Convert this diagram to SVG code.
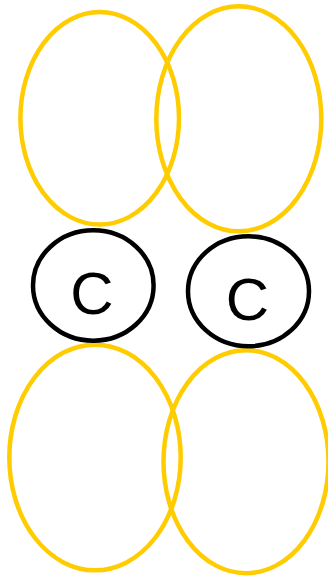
<svg xmlns="http://www.w3.org/2000/svg" width="328" height="576" viewBox="0 0 328 576">
<style>
.y{fill:none;stroke:#FFCC00;stroke-width:4.5}
.k{fill:none;stroke:#000;stroke-width:4.5}
.t{font-family:"Liberation Sans",Arial,sans-serif;font-size:60px;fill:#000;text-anchor:middle}
</style>
<rect width="328" height="576" fill="#fff"/>
<g id="ellipse-top-left"><ellipse class="y" cx="99.7" cy="118.3" rx="79.3" ry="106.3"/></g>
<g id="ellipse-top-right"><ellipse class="y" cx="238.8" cy="118.8" rx="82.5" ry="112.5"/></g>
<g id="ellipse-bottom-left"><ellipse class="y" cx="95" cy="457.5" rx="85.7" ry="112.8"/></g>
<g id="ellipse-bottom-right"><ellipse class="y" cx="246" cy="461.7" rx="82.5" ry="111.5"/></g>
<g id="node-c-left"><ellipse class="k" cx="93.3" cy="285.5" rx="60.3" ry="55.2"/><text class="t" x="92" y="313.5">C</text></g>
<g id="node-c-right"><ellipse class="k" cx="248.5" cy="291.3" rx="60.5" ry="55"/><text class="t" x="247.5" y="319.5">C</text></g>
<g id="connectors"></g>
</svg>
